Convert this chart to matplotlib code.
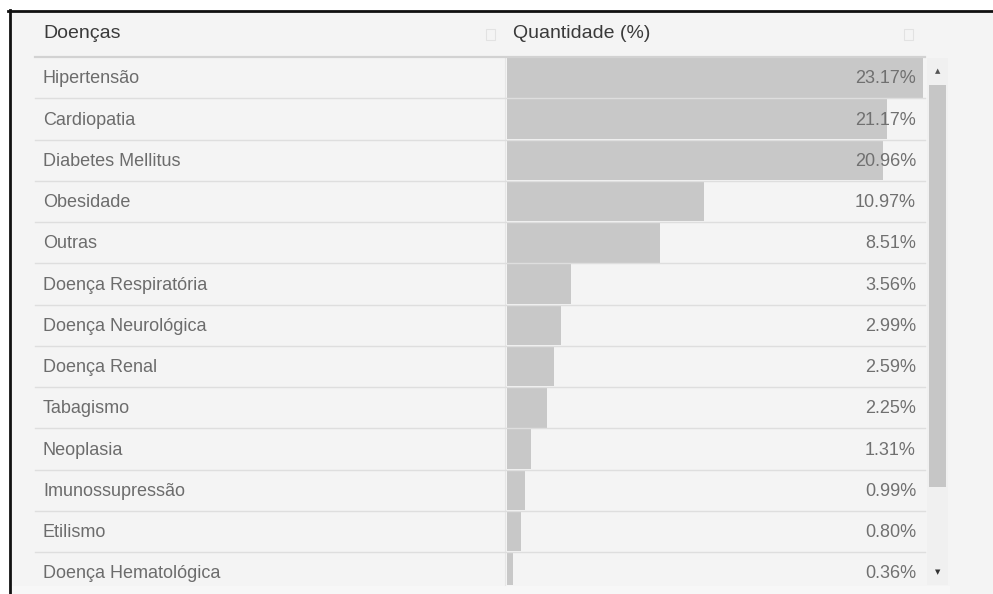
import matplotlib
matplotlib.use("Agg")
import matplotlib.pyplot as plt
from matplotlib.patches import Rectangle
from matplotlib.lines import Line2D
from matplotlib.transforms import blended_transform_factory

plt.rcParams['font.family'] = ['Liberation Sans', 'DejaVu Sans']

# Table content
header_left = "Doenças"
header_right = "Quantidade (%)"
categories = ["Hipertensão", "Cardiopatia", "Diabetes Mellitus", "Obesidade",
              "Outras", "Doença Respiratória", "Doença Neurológica",
              "Doença Renal", "Tabagismo", "Neoplasia", "Imunossupressão",
              "Etilismo", "Doença Hematológica"]
values = [23.17, 21.17, 20.96, 10.97, 8.51, 3.56, 2.99, 2.59, 2.25,
          1.31, 0.99, 0.80, 0.36]

W, H = 993, 594
fig = plt.figure(figsize=(W / 100, H / 100), dpi=100)
fig.patch.set_facecolor('white')


def fx(px):
    return px / W


def fy(py):
    return 1 - py / H


def frect(x0, y0, x1, y1, **kw):
    fig.patches.append(Rectangle((fx(x0), fy(y1)), fx(x1) - fx(x0),
                                 fy(y0) - fy(y1), transform=fig.transFigure,
                                 **kw))


# panel background and frame
frect(10, 11, W, H, facecolor='#f4f4f4', edgecolor='none', zorder=0)
frect(10, 586, 950, H, facecolor='#f7f7f7', edgecolor='none', zorder=0)
fig.lines.append(Line2D([fx(8), fx(W)], [fy(11), fy(11)], color='#111111',
                        lw=2.0, transform=fig.transFigure, zorder=5))
fig.lines.append(Line2D([fx(10), fx(10)], [fy(10), fy(H)], color='#111111',
                        lw=2.0, transform=fig.transFigure, zorder=5))

# bar column
row_h = 41.25
top_px, bot_px = 57, 585
left_px, right_px = 507, 923
ax = fig.add_axes([fx(left_px), fy(bot_px), fx(right_px) - fx(left_px),
                   fy(top_px) - fy(bot_px)])
ax.set_zorder(3)
ax.set_facecolor('none')
for s in ax.spines.values():
    s.set_visible(False)
ax.set_xticks([])
ax.set_yticks([])
n = len(categories)
ax.set_xlim(0, max(values))
ax.set_ylim(-0.5 + (bot_px - top_px) / row_h, -0.5)

ypos = list(range(n))
ax.barh(ypos, values, height=0.97, color='#c8c8c8', zorder=2)

fig_y = blended_transform_factory(fig.transFigure, ax.transData)
ax_y = blended_transform_factory(ax.transAxes, ax.transData)

for i, (cat, v) in enumerate(zip(categories, values)):
    ax.text((916 - left_px) / (right_px - left_px), i + 0.03, f"{v:.2f}%",
            transform=ax_y, ha='right', va='center', fontsize=13,
            color='#707070', zorder=4, clip_on=False)
    ax.text(fx(43), i + 0.03, cat, transform=fig_y, ha='left', va='center',
            fontsize=13, color='#6c6c6c', clip_on=False)
    if i > 0:
        ax.add_line(Line2D([fx(35), fx(925)], [i - 0.5, i - 0.5],
                           transform=fig_y, color='#dedede', lw=1.0,
                           zorder=3, clip_on=False))

# column divider in the body
fig.lines.append(Line2D([fx(505), fx(505)], [fy(58), fy(585)],
                        color='#e6e6e6', lw=0.8, transform=fig.transFigure,
                        zorder=1))

# header
fig.lines.append(Line2D([fx(35), fx(925)], [fy(57), fy(57)], color='#d2d2d2',
                        lw=1.6, transform=fig.transFigure, zorder=4))
fig.text(fx(43), fy(34), header_left, ha='left', va='center', fontsize=14,
         color='#3a3a3a')
fig.text(fx(513), fy(34), header_right, ha='left', va='center', fontsize=14,
         color='#3a3a3a')
for xs in (486, 904):
    frect(xs, 29, xs + 9, 40, facecolor='none', edgecolor='#e2e2e2', lw=0.8,
          zorder=2)

# scrollbar
frect(927, 58, 948, 585, facecolor='#f0f0f0', edgecolor='none', zorder=1)
frect(929, 85, 946, 487, facecolor='#c6c6c6', edgecolor='none', zorder=2)
fig.text(fx(937.5), fy(71), "▲", ha='center', va='center', fontsize=5,
         color='#555555', family='DejaVu Sans')
fig.text(fx(937.5), fy(572), "▼", ha='center', va='center', fontsize=5,
         color='#333333', family='DejaVu Sans')

fig.savefig("out.png", dpi=100, facecolor=fig.get_facecolor())
